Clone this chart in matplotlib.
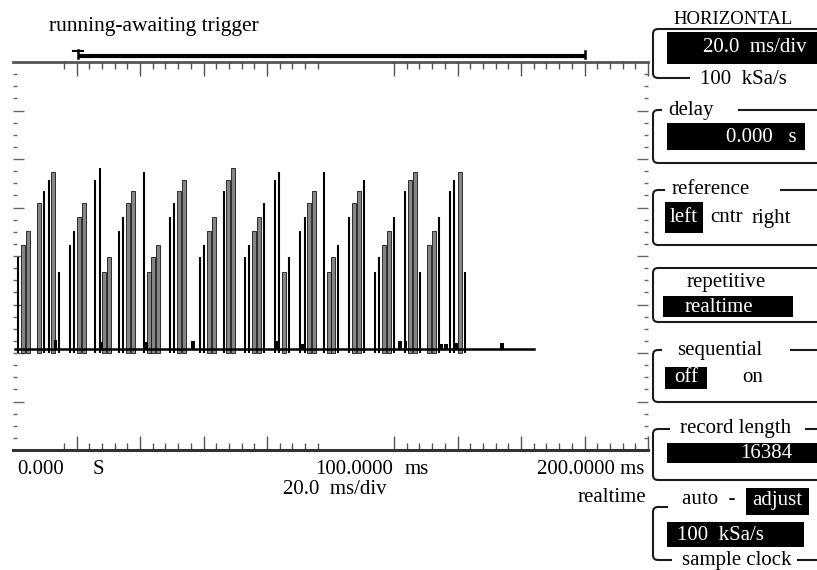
import matplotlib
matplotlib.use("Agg")
import matplotlib.pyplot as plt
from matplotlib.path import Path
from matplotlib.patches import PathPatch, Rectangle
from matplotlib.ticker import FixedLocator
import numpy as np

# ---- waveform data (time in ms, amplitude in screen counts above baseline) ----
pulse_t = [1.6, 3.1, 4.7, 8.2, 9.8, 11.3, 12.6, 14.5,
           18.0, 19.2, 20.8, 22.4, 25.8, 27.4, 28.7, 30.2,
           33.4, 34.6, 36.2, 37.8, 41.3, 42.8, 44.1, 45.7,
           49.4, 50.7, 52.3, 53.9, 58.9, 60.2, 61.7, 63.3,
           66.5, 67.7, 69.3, 73.1, 74.3, 75.9, 77.5, 79.1,
           82.5, 83.8, 85.4, 86.9, 90.4, 92.0, 93.2, 94.8,
           98.0, 99.5, 100.8, 102.4, 105.8, 107.4, 109.0, 110.6,
           114.0, 115.3, 116.9, 118.4, 120.0, 123.5, 125.0, 126.6,
           128.2, 131.0, 132.6, 134.2, 137.6, 138.9, 140.8, 142.4]
pulse_h = [92, 104, 118, 146, 158, 169, 177, 77,
           104, 118, 132, 146, 169, 181, 77, 92,
           118, 132, 146, 158, 177, 77, 92, 104,
           132, 146, 158, 169, 92, 104, 118, 132,
           158, 169, 181, 92, 104, 118, 132, 146,
           169, 177, 77, 92, 118, 132, 146, 158,
           177, 77, 92, 104, 132, 146, 158, 169,
           77, 92, 104, 118, 132, 158, 169, 177,
           77, 104, 118, 132, 158, 169, 177, 77]
# shading of each trace line as it shows on the screen (1 = grey, 0 = black)
pulse_grey = [0, 1, 1, 1, 0, 0, 1, 0,
              0, 0, 1, 1, 0, 0, 1, 1,
              0, 0, 1, 1, 0, 1, 1, 1,
              0, 0, 1, 1, 0, 0, 1, 1,
              0, 1, 1, 0, 0, 1, 1, 0,
              0, 0, 1, 0, 0, 0, 1, 1,
              0, 1, 1, 0, 0, 1, 1, 0,
              0, 0, 1, 1, 0, 0, 1, 1,
              0, 1, 1, 0, 0, 0, 1, 0]
glitch_t = [13.5, 27.7, 41.9, 56.7, 83.1, 91.0, 121.9, 123.5, 134.8, 136.4, 139.8, 154.0]
glitch_h = [9, 7, 7, 8, 8, 5, 8, 8, 5, 5, 6, 6]
trace_end = 164.0

major_ms = [20, 40, 60, 80, 120, 140, 160, 180, 200]
minor_ms = [m for m in list(range(16, 97, 4)) + list(range(120, 201, 4)) if m not in major_ms]

W, H = 817, 570
FONT = ["Liberation Serif", "DejaVu Serif"]
INK = "#1a1a1a"

fig = plt.figure(figsize=(W / 100, H / 100), dpi=100)
fig.patch.set_facecolor("white")

# ---- scope screen ----
ax = fig.add_axes([13 / W, (H - 450) / H, 635 / W, 388 / H])
ax.set_xlim(0, 200)
ax.set_ylim(-101, 287)
ax.set_facecolor("white")
for s in ["left", "right"]:
    ax.spines[s].set_visible(False)
ax.spines["top"].set_color("#555555")
ax.spines["top"].set_linewidth(2.0)
ax.spines["bottom"].set_color("#333333")
ax.spines["bottom"].set_linewidth(2.2)

ax.xaxis.set_major_locator(FixedLocator(major_ms))
ax.xaxis.set_minor_locator(FixedLocator(minor_ms))
ax.yaxis.set_major_locator(FixedLocator([-101 + 48.5 * k for k in range(1, 8)]))
ax.yaxis.set_minor_locator(FixedLocator([-101 + 12.125 * k for k in range(1, 32)]))
ax.tick_params(axis="x", which="both", top=True, bottom=True, direction="in",
               labelbottom=False, color="#555555", width=1.0)
ax.tick_params(axis="x", which="major", length=10)
ax.tick_params(axis="x", which="minor", length=5)
ax.tick_params(axis="y", which="both", left=True, right=True, direction="in",
               labelleft=False, color="#666666", width=1.0)
ax.tick_params(axis="y", which="major", length=8)
ax.tick_params(axis="y", which="minor", length=3)

t = np.array(pulse_t)
h = np.array(pulse_h)
g = np.array(pulse_grey, dtype=bool)
ax.bar(t[g], h[g] + 4, bottom=-4, width=1.25, color="#858585", edgecolor="#151515",
       linewidth=0.6, zorder=3)
ax.vlines(t[~g], -4, h[~g], color="black", linewidth=1.5, zorder=3)
ax.bar(glitch_t, glitch_h, width=1.0, color="black", zorder=4)
ax.plot([0.6, trace_end], [0, 0], color="black", linewidth=1.8, zorder=5)

# ---- overlay in screen pixels for the instrument UI ----
ov = fig.add_axes([0, 0, 1, 1], zorder=10)
ov.set_xlim(0, W)
ov.set_ylim(H, 0)
ov.axis("off")
ov.patch.set_alpha(0)


def txt(x, y, s, ha="left", color="black", size=15):
    ov.text(x, y, s, ha=ha, va="center", color=color, fontsize=size, family=FONT)


def black_box(x0, x1, y0, y1):
    ov.add_patch(Rectangle((x0, y0), x1 - x0, y1 - y0, color="black", lw=0))


def bracket(top, bottom, top_runs, bottom_runs, x=653, r=5):
    verts = [(x + r, top), (x, top), (x, top + r), (x, bottom - r), (x, bottom), (x + r, bottom)]
    codes = [Path.MOVETO, Path.CURVE3, Path.CURVE3, Path.LINETO, Path.CURVE3, Path.CURVE3]
    ov.add_patch(PathPatch(Path(verts, codes), fill=False, ec=INK, lw=1.5))
    for a, b in top_runs:
        ov.plot([a, b], [top, top], color=INK, lw=1.5, solid_capstyle="butt")
    for a, b in bottom_runs:
        ov.plot([a, b], [bottom, bottom], color=INK, lw=1.5, solid_capstyle="butt")


# status line and record bar
txt(49, 27, "running-awaiting trigger", size=15.5)
ov.plot([78, 585], [55.5, 55.5], color="black", lw=3.0, solid_capstyle="butt")
ov.plot([73, 83], [50.5, 50.5], color="black", lw=1.5)
ov.plot([78, 78], [50, 58], color="black", lw=1.8)
ov.plot([585, 585], [51, 58], color="black", lw=1.8)

# time axis labels
txt(17, 469, "0.000")
txt(93, 469, "S")
txt(393, 469, "100.0000", ha="right")
txt(405, 469, "ms")
txt(644, 469, "200.0000 ms", ha="right")
txt(335, 489, "20.0  ms/div", ha="center")
txt(646, 497, "realtime", ha="right")

# right-hand menu
txt(733, 19, "HORIZONTAL", ha="center", size=13.5)
bracket(29, 78, [(658, 817)], [(658, 690)])
black_box(667, 817, 32, 64)
txt(807, 48, "20.0  ms/div", ha="right", color="white")
txt(700, 79, "100  kSa/s")

bracket(110, 163, [(658, 662), (738, 817)], [(658, 817)])
txt(668, 110, "delay")
black_box(667, 805, 123, 150)
txt(797, 137, "0.000   s", ha="right", color="white")

bracket(190, 245, [(658, 665), (780, 817)], [(658, 817)])
txt(672, 190, "reference")
black_box(665, 703, 202, 233)
txt(684, 218, "left", ha="center", color="white")
txt(710, 218, "cntr")
txt(752, 218, "right")

bracket(268, 322, [(658, 817)], [(658, 817)])
txt(726, 282, "repetitive", ha="center")
black_box(663, 793, 296, 317)
txt(685, 307, "realtime", color="white")

bracket(350, 402, [(658, 662), (790, 817)], [(658, 817)])
txt(677, 350, "sequential")
black_box(665, 707, 367, 389)
txt(686, 378, "off", ha="center", color="white")
txt(742, 378, "on")

bracket(429, 480, [(658, 670), (805, 817)], [(658, 817)])
txt(680, 429, "record length")
black_box(667, 817, 443, 463)
txt(792, 453, "16384", ha="right", color="white")

txt(682, 500, "auto  -")
black_box(746, 809, 488, 515)
txt(777, 501, "adjust", ha="center", color="white")
bracket(507, 560, [(658, 668)], [(658, 672), (797, 817)])
black_box(667, 804, 522, 547)
txt(677, 535, "100  kSa/s", color="white")
txt(682, 560, "sample clock")

fig.savefig("out.png", dpi=100, facecolor="white")
